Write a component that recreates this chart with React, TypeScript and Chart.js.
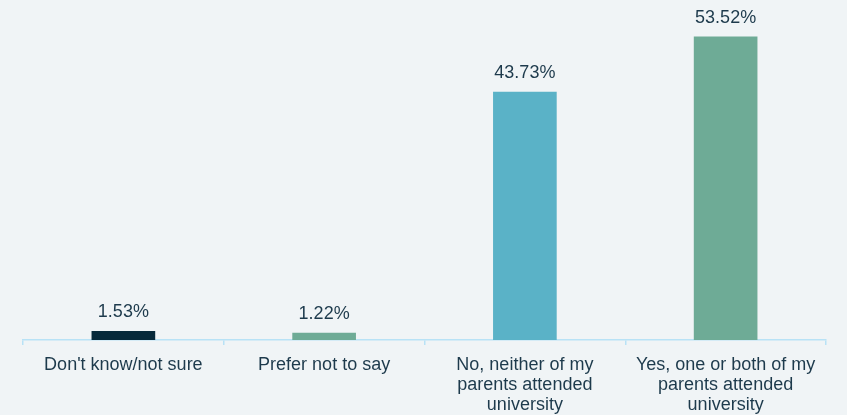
import React, { useEffect, useRef } from "react";
import { Chart, registerables } from "chart.js";

Chart.register(...registerables);

const categories: (string | string[])[] = [
  "Don't know/not sure",
  "Prefer not to say",
  ["No, neither of my", "parents attended", "university"],
  ["Yes, one or both of my", "parents attended", "university"],
];
const values: number[] = [1.53, 1.22, 43.73, 53.52];
const barColors: string[] = ["#06293a", "#6eab96", "#5ab2c7", "#6eab96"];

const TEXT = "#1d3a4c";
const FONT = "'Liberation Sans', Arial, sans-serif";

const valueLabels = {
  id: "valueLabels",
  afterDatasetsDraw(chart: any) {
    const ctx = chart.ctx;
    const meta = chart.getDatasetMeta(0);
    ctx.save();
    ctx.fillStyle = TEXT;
    ctx.font = `18px ${FONT}`;
    ctx.textAlign = "center";
    ctx.textBaseline = "middle";
    meta.data.forEach((bar: any, i: number) => {
      ctx.fillText(values[i].toFixed(2) + "%", bar.x, bar.y - 19);
    });
    ctx.restore();
  },
};

export default function App() {
  const ref = useRef<HTMLCanvasElement | null>(null);
  useEffect(() => {
    document.body.style.margin = "0";
    const chart = new Chart(ref.current!, {
      type: "bar",
      data: {
        labels: categories,
        datasets: [
          {
            data: values,
            backgroundColor: barColors,
            borderWidth: 0,
            barThickness: 63,
          },
        ],
      },
      options: {
        animation: false,
        responsive: false,
        maintainAspectRatio: false,
        layout: { padding: { left: 23, right: 21, top: 0, bottom: 0 } },
        plugins: {
          legend: { display: false },
          tooltip: { enabled: false },
        },
        scales: {
          y: {
            display: false,
            min: 0,
            max: 60,
          },
          x: {
            offset: true,
            grid: {
              display: true,
              drawOnChartArea: false,
              drawTicks: true,
              tickLength: 5,
              color: "#b8e2f6",
              lineWidth: 1.5,
              offset: true,
            },
            border: { display: true, color: "#b8e2f6", width: 1.5 },
            ticks: {
              color: TEXT,
              font: { family: FONT, size: 18, lineHeight: 1.111 },
              padding: 10,
              maxRotation: 0,
              autoSkip: false,
            },
            afterFit(scale: any) {
              scale.height = 75;
            },
          },
        },
      },
      plugins: [valueLabels],
    });
    return () => chart.destroy();
  }, []);
  return (
    <div style={{ width: 847, height: 415, background: "#f0f4f6" }}>
      <canvas ref={ref} width={847} height={415} style={{ display: "block" }} />
    </div>
  );
}
